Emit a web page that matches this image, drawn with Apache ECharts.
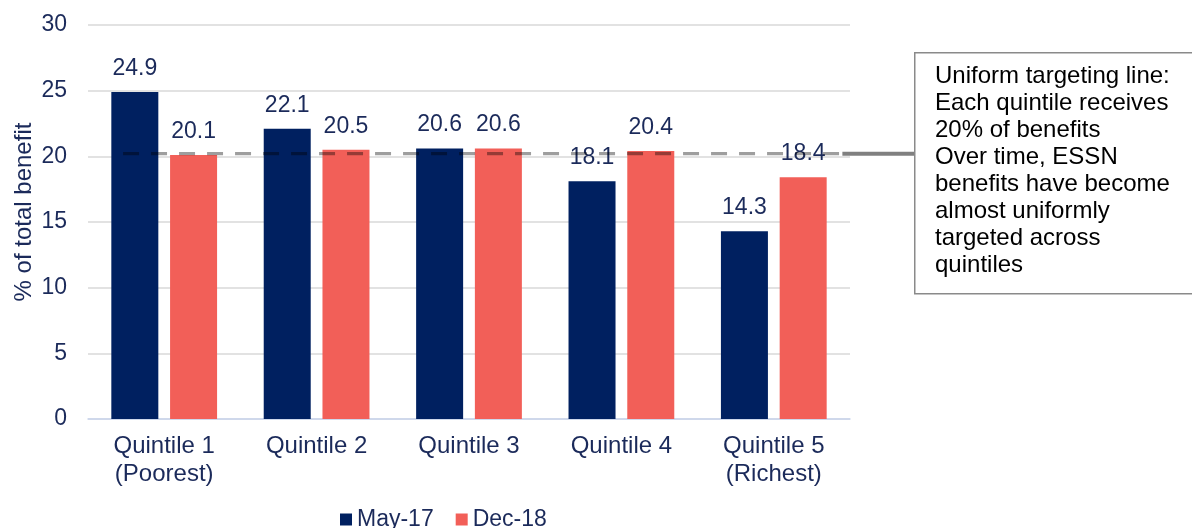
<!DOCTYPE html>
<html><head><meta charset="utf-8">
<script src="https://cdn.jsdelivr.net/npm/echarts@6/dist/echarts.min.js"></script>
<style>html,body{margin:0;padding:0;background:#fff}#c{width:1192px;height:528px}</style>
</head><body><div id="c"></div>
<script>
const categories = ['Quintile 1\n(Poorest)', 'Quintile 2', 'Quintile 3', 'Quintile 4', 'Quintile 5\n(Richest)'];
const may17 = [24.9, 22.1, 20.6, 18.1, 14.3];
const dec18 = [20.1, 20.5, 20.6, 20.4, 18.4];
const seriesNames = ['May-17', 'Dec-18'];
const uniformLevel = 20.2;
const dashedLine = [[0.23, uniformLevel], [5.0, uniformLevel]];
const connectorStart = 4.95;
const yTicks = {min: 0, max: 30, interval: 5};
const noteLines = ['Uniform targeting line:', 'Each quintile receives', '20% of benefits', 'Over time, ESSN', 'benefits have become', 'almost uniformly', 'targeted across', 'quintiles'];

const navy = '#002060', coral = '#F25F58', txt = '#1B2A5A';
const font = 'Liberation Sans, Arial, sans-serif';
const chart = echarts.init(document.getElementById('c'));
const boxLeft = 914;
chart.setOption({
  animation: false,
  textStyle: {fontFamily: font},
  grid: {left: 88, right: 342, top: 25, bottom: 109, containLabel: false, outerBoundsMode: 'none'},
  legend: {
    data: seriesNames, left: 335, top: 503, itemWidth: 12, itemHeight: 12, itemGap: 22,
    icon: 'rect', textStyle: {fontSize: 23, color: txt, fontFamily: font}
  },
  xAxis: [{
    type: 'category', data: categories,
    axisLine: {lineStyle: {color: '#C9D5EE', width: 1.5}},
    axisTick: {show: false},
    axisLabel: {fontSize: 24, color: txt, lineHeight: 28, margin: 13, fontFamily: font, interval: 0}
  }, {
    type: 'value', min: 0, max: 5, show: false
  }],
  yAxis: {
    type: 'value', min: yTicks.min, max: yTicks.max, interval: yTicks.interval,
    name: '% of total benefit', nameLocation: 'middle', nameGap: 52, nameRotate: 90,
    nameMoveOverlap: false,
    nameTextStyle: {fontSize: 24, color: txt, fontFamily: font, padding: [0, 0, 0, 20]},
    axisLine: {show: false}, axisTick: {show: false},
    axisLabel: {fontSize: 23, color: txt, margin: 21, fontFamily: font},
    splitLine: {lineStyle: {color: '#D9D9D9', width: 1.5}}
  },
  series: [
    {name: seriesNames[0], type: 'bar', data: may17, barWidth: 47, barGap: '25%',
     itemStyle: {color: navy},
     label: {show: true, position: 'top', distance: 12, fontSize: 23, color: txt, fontFamily: font}},
    {name: seriesNames[1], type: 'bar', data: dec18, barWidth: 47, barGap: '25%',
     itemStyle: {color: coral},
     label: {show: true, position: 'top', distance: 12, fontSize: 23, color: txt, fontFamily: font}},
    {type: 'line', xAxisIndex: 1, data: dashedLine, symbol: 'none', silent: true, z: 3,
     lineStyle: {color: 'rgba(0,0,0,0.38)', width: 3.3, type: [16, 12]}}
  ]
});
const yPix = chart.convertToPixel({yAxisIndex: 0}, uniformLevel);
const xPix = chart.convertToPixel({xAxisIndex: 1}, connectorStart);
chart.setOption({
  graphic: [{
    type: 'line', z: 9, shape: {x1: xPix, y1: yPix, x2: boxLeft, y2: yPix},
    style: {stroke: '#808080', lineWidth: 4}
  }, {
    type: 'rect', left: boxLeft, top: 52, shape: {width: 300, height: 241},
    style: {fill: '#fff', stroke: '#8A8A8A', lineWidth: 1.5}, z: 10
  }, {
    type: 'text', left: 935, top: 63, z: 11,
    style: {text: noteLines.join('\n'), fontSize: 24, lineHeight: 27, fill: '#000', fontFamily: font}
  }]
});
</script></body></html>
